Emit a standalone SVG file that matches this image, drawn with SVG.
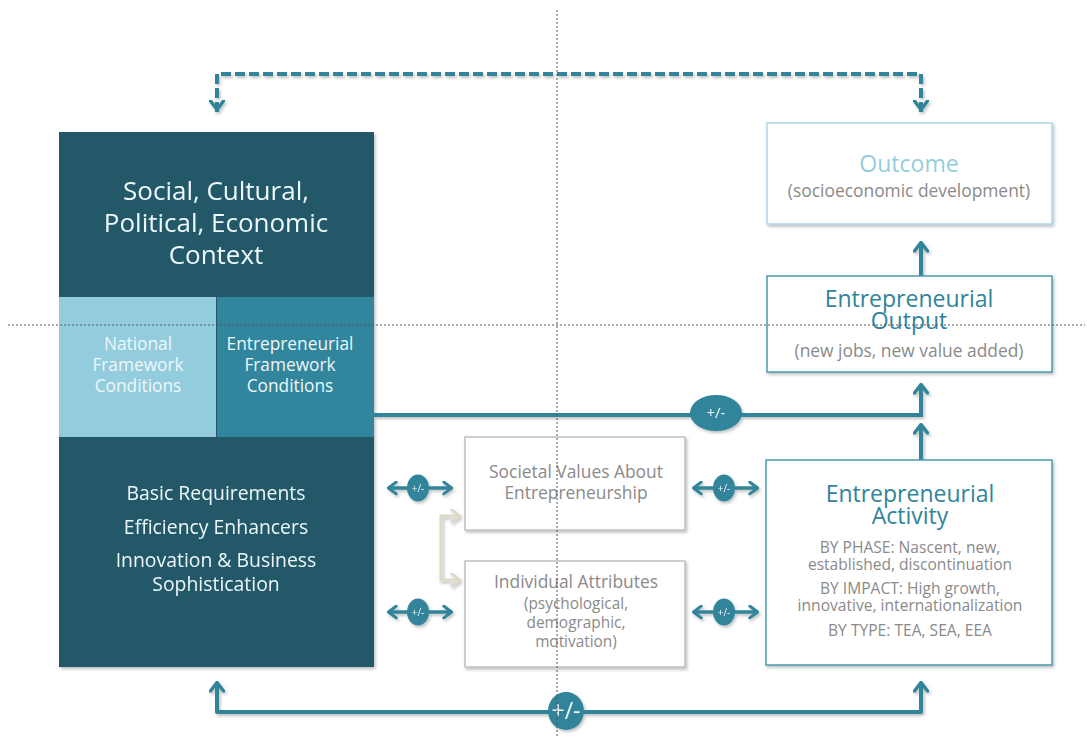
<svg xmlns="http://www.w3.org/2000/svg" width="1087" height="737" viewBox="0 0 1087 737">
  <style>
    text { font-family: "Open Sans", "Noto Sans", "Liberation Sans", sans-serif; text-anchor: middle; }
    .white { fill: #EEF7FA; }
    .grey { fill: #8A8A8A; }
    .teal { fill: #31849B; }
    .pale { fill: #93CDDD; }
    .conn { fill: none; stroke: #31849B; stroke-width: 4; }
    .small { fill: none; stroke: #31849B; stroke-width: 3.5; }
    .boxgrey { fill: #FFFFFF; stroke: #BFBFBF; stroke-width: 1.5; }
    .boxteal { fill: #FFFFFF; stroke: #4A9AB0; stroke-width: 1.5; }
    .boxpale { fill: #FFFFFF; stroke: #A8D8E4; stroke-width: 1.5; }
    .guide { fill: none; stroke: #555555; stroke-width: 1; stroke-dasharray: 2 2; }
    .badge { fill: #31849B; }
  </style>
  <defs>
    <filter id="shadow" x="-10%" y="-10%" width="130%" height="130%">
      <feDropShadow dx="1.5" dy="2" stdDeviation="1.5" flood-color="#000000" flood-opacity="0.25"/>
    </filter>
    <marker id="chev" viewBox="0 0 12 16" refX="10.5" refY="8" markerWidth="12" markerHeight="16" markerUnits="userSpaceOnUse" orient="auto-start-reverse">
      <path d="M1.5,1.5 L10,8 L1.5,14.5" fill="none" stroke="#31849B" stroke-width="3.5" stroke-linejoin="round" stroke-linecap="round"/>
    </marker>
    <marker id="chevS" viewBox="0 0 12 16" refX="10.5" refY="8" markerWidth="11" markerHeight="15" markerUnits="userSpaceOnUse" orient="auto-start-reverse">
      <path d="M1.5,1.5 L10,8 L1.5,14.5" fill="none" stroke="#31849B" stroke-width="3.2" stroke-linejoin="round" stroke-linecap="round"/>
    </marker>
    <marker id="chevB" viewBox="0 0 12 16" refX="10.5" refY="8" markerWidth="11" markerHeight="15" markerUnits="userSpaceOnUse" orient="auto-start-reverse">
      <path d="M1.5,1.5 L10,8 L1.5,14.5" fill="none" stroke="#DDD9C6" stroke-width="2.8" stroke-linejoin="round" stroke-linecap="round"/>
    </marker>
  </defs>

  <rect width="1087" height="737" fill="#FFFFFF"/>

  <!-- context column -->
  <g id="context" filter="url(#shadow)">
    <rect x="59" y="132" width="315" height="535" fill="#215968"/>
    <text class="white" font-size="26"><tspan x="216" y="200">Social, Cultural,</tspan><tspan x="216" y="232">Political, Economic</tspan><tspan x="216" y="264">Context</tspan></text>
    <text class="white" font-size="19.4"><tspan x="216" y="500">Basic Requirements</tspan><tspan x="216" y="534">Efficiency Enhancers</tspan><tspan x="216" y="567">Innovation &amp; Business</tspan><tspan x="216" y="591">Sophistication</tspan></text>
  </g>
  <g id="national-framework">
    <rect x="59" y="297" width="157" height="140" fill="#93CDDD"/>
    <text class="white" font-size="17.3"><tspan x="138" y="350">National</tspan><tspan x="138" y="371">Framework</tspan><tspan x="138" y="392">Conditions</tspan></text>
  </g>
  <g id="entrepreneurial-framework">
    <rect x="217" y="297" width="157" height="140" fill="#31859C"/>
    <text class="white" font-size="17.3"><tspan x="290" y="350">Entrepreneurial</tspan><tspan x="290" y="371">Framework</tspan><tspan x="290" y="392">Conditions</tspan></text>
  </g>

  <!-- connectors -->
  <g id="connectors" filter="url(#shadow)">
    <path class="conn" d="M217,112 V74 H921 V112" stroke-dasharray="10 4"/>
    <path class="conn" d="M217,105 V110" marker-end="url(#chev)"/>
    <path class="conn" d="M921,105 V110" marker-end="url(#chev)"/>
    <path class="conn" d="M921,276 V242" marker-end="url(#chev)"/>
    <path class="conn" d="M374,415 H921 V384" marker-end="url(#chev)"/>
    <path class="conn" d="M921,460 V424" marker-end="url(#chev)"/>
    <path class="conn" d="M217,682 V712 H921 V682" marker-start="url(#chev)" marker-end="url(#chev)" stroke-linejoin="round"/>
    <path class="small" d="M388,488 H452" marker-start="url(#chevS)" marker-end="url(#chevS)"/>
    <path class="small" d="M388,612 H452" marker-start="url(#chevS)" marker-end="url(#chevS)"/>
    <path class="small" d="M693,488 H758" marker-start="url(#chevS)" marker-end="url(#chevS)"/>
    <path class="small" d="M693,612 H758" marker-start="url(#chevS)" marker-end="url(#chevS)"/>
    <path d="M460,516 H441 V580 H460" fill="none" stroke="#DDD9C6" stroke-width="3" marker-start="url(#chevB)" marker-end="url(#chevB)"/>
    <ellipse class="badge" cx="716" cy="413" rx="26" ry="18"/>
    <ellipse class="badge" cx="566" cy="711" rx="18" ry="19"/>
    <ellipse class="badge" cx="418" cy="488" rx="11" ry="13.5"/>
    <ellipse class="badge" cx="418" cy="612" rx="11" ry="13.5"/>
    <ellipse class="badge" cx="724" cy="488" rx="11" ry="13.5"/>
    <ellipse class="badge" cx="724" cy="612" rx="11" ry="13.5"/>
    <text class="white" font-size="15" x="716" y="418">+/-</text>
    <text class="white" font-size="23" x="566" y="719">+/-</text>
    <text class="white" font-size="10" x="418" y="492">+/-</text>
    <text class="white" font-size="10" x="418" y="616">+/-</text>
    <text class="white" font-size="10" x="724" y="492">+/-</text>
    <text class="white" font-size="10" x="724" y="616">+/-</text>
  </g>

  <!-- societal values -->
  <g id="societal-values">
    <rect class="boxgrey" x="465" y="437" width="220" height="93" filter="url(#shadow)"/>
    <text class="grey" font-size="17.4"><tspan x="576" y="478">Societal Values About</tspan><tspan x="576" y="499">Entrepreneurship</tspan></text>
  </g>

  <!-- individual attributes -->
  <g id="individual-attributes">
    <rect class="boxgrey" x="465" y="561" width="220" height="106" filter="url(#shadow)"/>
    <text class="grey" font-size="17.4" x="576" y="588">Individual Attributes</text>
    <text class="grey" font-size="15.4"><tspan x="576" y="609">(psychological,</tspan><tspan x="576" y="628">demographic,</tspan><tspan x="576" y="647">motivation)</tspan></text>
  </g>

  <!-- entrepreneurial activity -->
  <g id="activity">
    <rect class="boxteal" x="766" y="460" width="286" height="205" filter="url(#shadow)"/>
    <text class="teal" font-size="23"><tspan x="910" y="502">Entrepreneurial</tspan><tspan x="910" y="524">Activity</tspan></text>
    <text class="grey" font-size="15.6"><tspan x="910" y="553">BY PHASE: Nascent, new,</tspan><tspan x="910" y="570">established, discontinuation</tspan><tspan x="910" y="594">BY IMPACT: High growth,</tspan><tspan x="910" y="611">innovative, internationalization</tspan><tspan x="910" y="636">BY TYPE: TEA, SEA, EEA</tspan></text>
  </g>

  <!-- entrepreneurial output -->
  <g id="output">
    <rect class="boxteal" x="767" y="276" width="285" height="96" filter="url(#shadow)"/>
    <text class="teal" font-size="23"><tspan x="909" y="307">Entrepreneurial</tspan><tspan x="909" y="329">Output</tspan></text>
    <text class="grey" font-size="17.4" x="909" y="357">(new jobs, new value added)</text>
  </g>

  <!-- outcome -->
  <g id="outcome">
    <rect class="boxpale" x="767" y="123" width="285" height="101" filter="url(#shadow)"/>
    <text class="pale" font-size="23" x="909" y="172">Outcome</text>
    <text class="grey" font-size="17.4" x="909" y="197">(socioeconomic development)</text>
  </g>

  <!-- guide lines -->
  <g id="guides">
    <path class="guide" d="M557,10 V737"/>
    <path class="guide" d="M8,325 H1085"/>
  </g>
</svg>
